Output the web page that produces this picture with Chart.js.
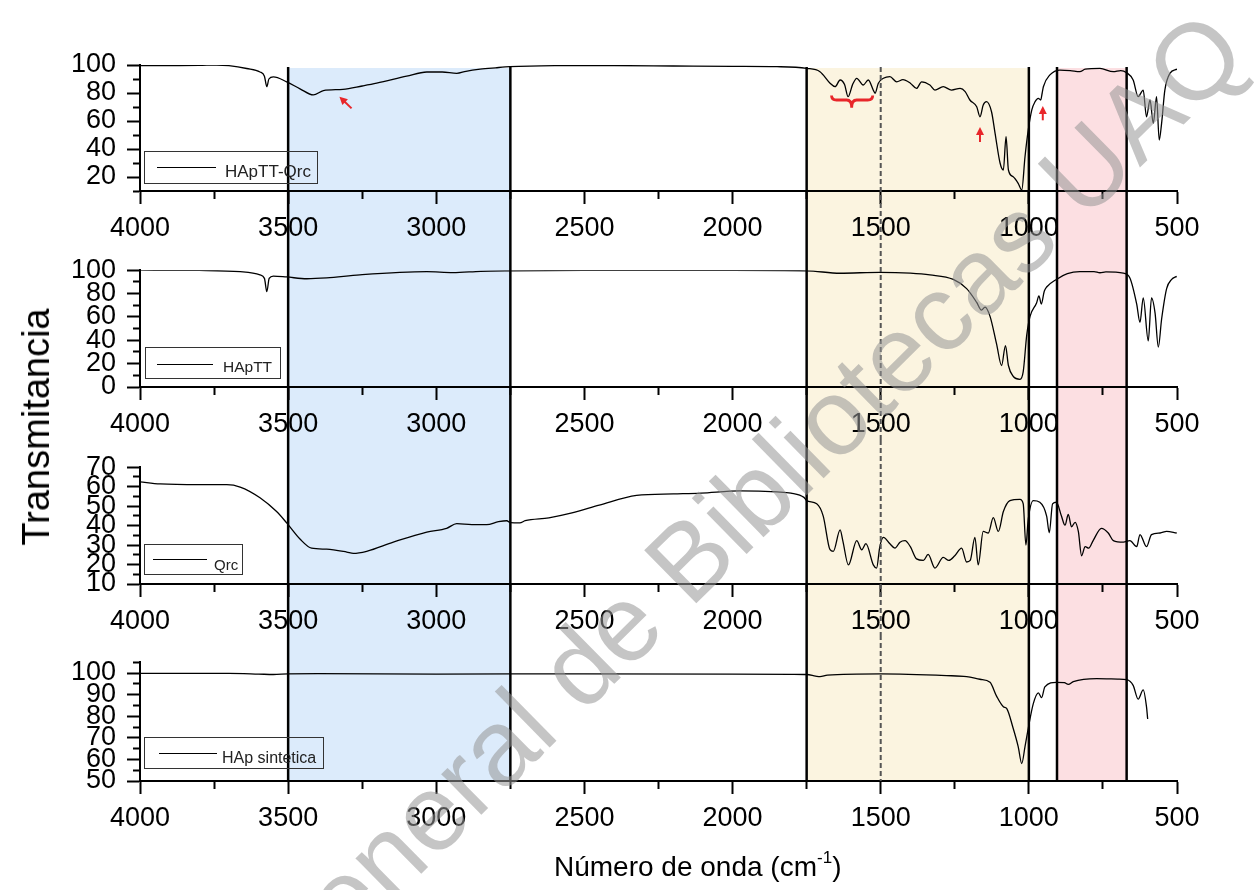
<!DOCTYPE html>
<html><head><meta charset="utf-8">
<script src="https://cdn.jsdelivr.net/npm/chart.js@4.4.1/dist/chart.umd.min.js"></script>
<style>
html,body{margin:0;padding:0;background:#fff;overflow:hidden;}
#wrap{position:relative;width:1259px;height:890px;overflow:hidden;font-family:"Liberation Sans",Arial,sans-serif;color:#000;}
canvas{position:absolute;left:0;}
.lbox{position:absolute;border:1.5px solid #333;box-sizing:border-box;}
.lline{position:absolute;height:0;border-top:1.3px solid #000;}
.ltext{position:absolute;white-space:nowrap;color:#222;line-height:1;}
</style></head>
<body><div id="wrap">
<canvas id="c1" width="1259" height="243" style="top:0px"></canvas>
<canvas id="c2" width="1259" height="197" style="top:243px"></canvas>
<canvas id="c3" width="1259" height="195" style="top:440px"></canvas>
<canvas id="c4" width="1259" height="255" style="top:635px"></canvas>
<div id="legends"></div>
<div style="position:absolute;left:36px;top:427px;transform:translate(-50%,-50%) rotate(-90deg);font-size:38px;white-space:nowrap;line-height:1;">Transmitancia</div>
<div style="position:absolute;left:554px;top:853px;font-size:28px;line-height:28px;white-space:nowrap;">Número de onda (cm<span style="font-size:17px;position:relative;top:-13px;">-1</span>)</div>
<div id="wm" style="position:absolute;left:1225px;top:32px;transform-origin:0 0;transform:rotate(-44.5deg) translate(-100%,-50%);font-size:108px;line-height:1;white-space:nowrap;color:rgba(150,150,150,0.55);pointer-events:none;">Dirección General de Bibliotecas UAQ</div>
</div>
<script>
// ---------- data ----------
const seriesNames = ['HApTT-Qrc', 'HApTT', 'Qrc', 'HAp sintetica'];

const wnHApTTQrc = [4000,3900,3800,3741,3700,3640,3595,3580,3572,3565,3550,3505,3460,3415,3381,3315,3250,3201,3100,3032,2980,2931,2900,2852,2800,2751,2600,2400,2200,2000,1850,1750,1705,1671,1654,1637,1622,1610,1595,1581,1559,1542,1525,1519,1508,1491,1469,1446,1425,1400,1379,1362,1334,1317,1289,1261,1232,1215,1199,1176,1165,1154,1143,1126,1114,1097,1086,1077,1069,1053,1036,1024,1013,1002,990,979,968,960,955,951,929,895,860,828,810,760,715,690,670,648,631,614,603,591,580,569,560,552,541,524,500];
const tHApTTQrc = [99.5,99.6,99.7,100,99.5,97.5,95,92,84.5,90,91.5,88,83,78.6,81.7,82.6,85,87,92,95,95,94,95.5,97,98,98.8,99.5,99.6,99.3,99,98.8,97.6,95.2,87,84.5,89.3,86,77.4,86,90.5,85.7,89.3,82,79.8,87,90.5,91.7,88,89.5,87,83.3,88,85.7,82.1,84.5,82.1,83.3,81,75,70.2,63,71.4,73.8,66.6,51.2,29.8,25,48.8,25,20.2,15.5,10.7,34.5,53.6,67.9,73.8,76.2,75,80,84.5,92.9,96.4,96,95.2,97,97.6,95.2,96,94.5,89.3,77.4,82,63,75,58.3,77.4,46.4,58.3,82,94,97];

const wnHApTT = [4000,3800,3662,3595,3580,3572,3564,3550,3505,3437,3370,3258,3032,2944,2850,2751,2500,2000,1750,1637,1503,1400,1334,1255,1210,1176,1160,1148,1131,1109,1092,1079,1069,1053,1030,1019,1007,996,974,966,958,948,940,907,870,828,780,760,740,681,659,636,625,614,597,586,574,563,552,535,518,501];
const tHApTT = [100,99.8,98.7,96,93,81.6,93,95,94.2,92.7,93.4,96,98.7,97.9,99,99.4,99.8,99.9,99.5,97.4,98.2,97.5,96,92.1,84.2,72.4,65.8,68.4,60.5,36.9,18.4,35.5,18.4,9.2,6.6,13.2,44.8,60.5,72,78,71,82,85.6,92.1,97,98.7,98.7,97.8,98.5,97.4,93.4,71,55.3,76.3,39.5,76.3,63.2,34.2,58,84.2,92.1,94.7];

const wnQrc = [4000,3932,3800,3707,3662,3595,3539,3505,3460,3421,3370,3302,3280,3235,3145,3032,2965,2931,2880,2830,2790,2762,2750,2718,2700,2620,2542,2450,2324,2200,2107,1976,1850,1803,1759,1750,1716,1694,1671,1660,1637,1628,1609,1581,1564,1550,1525,1514,1503,1491,1469,1452,1435,1418,1400,1379,1356,1340,1317,1289,1270,1250,1227,1210,1198,1182,1171,1154,1137,1120,1103,1086,1064,1030,1019,1010,1002,985,963,940,931,920,907,890,878,867,856,844,833,822,810,798,783,755,732,715,681,659,636,625,603,586,557,535,501];
const tQrc = [62.5,61.4,61,61,59.8,54.3,47.2,41.4,33.1,28.4,27.9,26.4,25.7,26.8,31.5,36.7,38.6,41,40.5,40.5,42,42.5,41.5,41.4,42.5,44,46.5,50.5,55.5,56.3,56.7,57.8,57.3,56.7,54.5,52.8,51.2,44.9,27.6,26.8,37.8,32.3,19.8,32.3,27.6,30.7,19.8,18.2,29.2,33.9,30.7,28.4,31.5,32.3,29.2,22.9,22.1,25.2,18.2,23.7,22.1,24.5,28.4,21.3,22.1,33.9,19.8,37,36.2,44.1,37,47.2,52.8,53.5,51.2,30,43.3,52.8,52,44.9,36.3,51.2,52,44.9,40.2,45.7,39.4,41.7,37,24.5,29.2,28.4,32.3,38.6,36.2,32.3,31.5,32.3,29.2,35.4,29.2,35.4,36.2,37,36.2];

const wnHApSint = [4000,3700,3600,3550,3500,3400,3000,2500,2000,1800,1750,1720,1705,1680,1500,1278,1210,1165,1131,1109,1086,1075,1053,1036,1024,1013,1002,985,968,957,946,907,880,867,850,771,700,670,648,631,614,603,599];
const tHApSint = [99.8,99.8,99.5,99.3,99.6,99.7,99.5,99.6,99.5,99.4,99.3,98.6,98.3,99,99.6,98.8,98.3,97.1,95.7,89.3,84.4,83.6,74.4,65.9,58.1,65.9,74.4,85.8,90.8,88.6,93.6,95.7,95.5,94.7,96,97.4,97.2,96.9,94.3,87.9,92.2,84.4,78.7];

// x axis (wavenumber) ticks
const xMin = 500, xMax = 4000, xStep = 250, xLabelStep = 500;
// y axis ranges per panel
const yMins = [10, 0, 10, 50];
const yMaxs = [100, 100, 70, 105];
const ySteps = [10, 10, 5, 5];
const yLabelSteps = [20, 20, 10, 10];

// highlighted regions (wavenumbers)
const bandFrom = [3500, 1750, 905];
const bandTo = [2750, 1000, 670];
const solidLines = [3500, 2750, 1750, 1000, 905, 670];
const dashedLine = 1500;

// ---------- styles ----------
const FONT = "'Liberation Sans', Arial, sans-serif";
const bandFill = ['#dcebfb', '#fbf4e0', '#fcdfe2'];
const RED = '#e8262a';

const layoutCfg = [
  {id:'c1', padTop:65, xh:52, first:true},
  {id:'c2', padTop:17, xh:53},
  {id:'c3', padTop:17, xh:51},
  {id:'c4', padTop:17, xh:109, last:true}
];
const dataCfg = [
  [wnHApTTQrc, tHApTTQrc], [wnHApTT, tHApTT], [wnQrc, tQrc], [wnHApSint, tHApSint]
];

const regionsPlugin = {
  id: 'regions',
  beforeDraw(chart, args, o) {
    const {ctx, chartArea} = chart; const x = chart.scales.x;
    const top = o.first ? chartArea.top + 3 : 0;
    const bottom = o.last ? chartArea.bottom : chart.height;
    ctx.save();
    bandFrom.forEach((a, i) => {
      const p1 = x.getPixelForValue(a), p2 = x.getPixelForValue(bandTo[i]);
      ctx.fillStyle = bandFill[i];
      ctx.fillRect(Math.min(p1,p2), top, Math.abs(p2-p1), bottom-top);
    });
    ctx.restore();
  },
  afterDraw(chart, args, o) {
    const {ctx, chartArea} = chart; const x = chart.scales.x;
    const top = o.first ? chartArea.top + 2 : 0;
    const bottom = o.last ? chartArea.bottom : chart.height;
    ctx.save();
    ctx.strokeStyle = '#000'; ctx.lineWidth = 2.5;
    solidLines.forEach(v => {
      const px = x.getPixelForValue(v);
      ctx.beginPath(); ctx.moveTo(px, top); ctx.lineTo(px, bottom); ctx.stroke();
    });
    ctx.strokeStyle = '#555'; ctx.lineWidth = 2; ctx.setLineDash([5,3]);
    const pd = x.getPixelForValue(dashedLine);
    ctx.beginPath(); ctx.moveTo(pd, top); ctx.lineTo(pd, bottom); ctx.stroke();
    ctx.restore();
    if (o.first) drawAnnotations(chart);
  }
};

function arrow(ctx, x1, y1, x2, y2) {
  const a = Math.atan2(y2-y1, x2-x1), hl = 8, hw = 4;
  ctx.beginPath(); ctx.moveTo(x1, y1); ctx.lineTo(x2 - hl*0.7*Math.cos(a), y2 - hl*0.7*Math.sin(a)); ctx.stroke();
  ctx.beginPath(); ctx.moveTo(x2, y2);
  ctx.lineTo(x2 - hl*Math.cos(a) + hw*Math.sin(a), y2 - hl*Math.sin(a) - hw*Math.cos(a));
  ctx.lineTo(x2 - hl*Math.cos(a) - hw*Math.sin(a), y2 - hl*Math.sin(a) + hw*Math.cos(a));
  ctx.closePath(); ctx.fill();
}
function drawAnnotations(chart) {
  const {ctx} = chart; const x = chart.scales.x, y = chart.scales.y;
  const X = v => x.getPixelForValue(v), Y = v => y.getPixelForValue(v);
  ctx.save();
  ctx.strokeStyle = RED; ctx.fillStyle = RED; ctx.lineWidth = 2;
  arrow(ctx, X(3286), Y(69), X(3327), Y(77.4));
  arrow(ctx, X(1165), Y(45), X(1165), Y(55.7));
  arrow(ctx, X(953), Y(60.5), X(953), Y(70.7));
  const xl = X(1666), xr = X(1527), xm = X(1598);
  const yb = Y(75), yt = Y(78.2), ym = Y(69.5);
  ctx.lineWidth = 2.8;
  ctx.beginPath();
  ctx.moveTo(xl, yt);
  ctx.quadraticCurveTo(xl, yb, xl + 5, yb);
  ctx.lineTo(xm - 5, yb);
  ctx.quadraticCurveTo(xm, yb, xm, ym);
  ctx.quadraticCurveTo(xm, yb, xm + 5, yb);
  ctx.lineTo(xr - 5, yb);
  ctx.quadraticCurveTo(xr, yb, xr, yt);
  ctx.stroke();
  ctx.restore();
}

function makeChart(i) {
  const L = layoutCfg[i];
  const [wn, t] = dataCfg[i];
  const pts = wn.map((w, k) => ({x: w, y: t[k]}));
  const yLab = yLabelSteps[i];
  return new Chart(document.getElementById(L.id), {
    type: 'line',
    data: { datasets: [{ label: seriesNames[i], data: pts, borderColor: '#000', borderWidth: 1.3,
      pointRadius: 0, cubicInterpolationMode: 'monotone', fill: false }] },
    options: {
      responsive: false, animation: false, devicePixelRatio: 1,
      layout: { padding: { top: L.padTop, left: 0, right: 82, bottom: 0 } },
      plugins: { legend: { display: false }, tooltip: { enabled: false },
        regions: { first: !!L.first, last: !!L.last } },
      scales: {
        x: { type: 'linear', min: xMin, max: xMax, reverse: true,
          afterFit: s => { s.height = L.xh; },
          border: { display: true, color: '#000', width: 2 },
          grid: { drawOnChartArea: false, drawTicks: true, tickLength: 13, tickWidth: 2, tickColor: '#000',
            tickBorderDash: c => (c.tick && c.tick.value % xLabelStep !== 0) ? [7, 100] : [] },
          ticks: { stepSize: xStep, autoSkip: false, maxRotation: 0, padding: 8, color: '#000',
            font: { family: FONT, size: 27 },
            callback: v => (v % xLabelStep === 0 ? String(v) : '') } },
        y: { min: yMins[i], max: yMaxs[i],
          afterFit: s => { s.width = 140; },
          border: { display: true, color: '#000', width: 2 },
          grid: { drawOnChartArea: false, drawTicks: true, tickLength: 13, tickWidth: 2, tickColor: '#000',
            tickBorderDash: c => (c.tick && c.tick.value % yLab !== 0) ? [0, 6, 9, 100] : [] },
          ticks: { stepSize: ySteps[i], autoSkip: false, padding: 11, color: '#000',
            font: { family: FONT, size: 27 },
            callback: v => (v % yLab === 0 ? String(v) : '') } }
      }
    },
    plugins: [regionsPlugin]
  });
}
[0,1,2,3].forEach(makeChart);

// ---------- legends (HTML) ----------
const legendBoxes = [
  {l:144, t:151, w:174, h:33, x1:157, x2:216, ly:167.5, tx:225, fs:17, base:177.7},
  {l:145, t:347, w:136, h:32, x1:157, x2:213, ly:364.3, tx:223, fs:15.5, base:371.7},
  {l:144, t:544, w:99, h:31, x1:153, x2:207, ly:560, tx:214, fs:15, base:570},
  {l:144, t:737, w:180, h:32, x1:159, x2:217, ly:754, tx:222, fs:16, base:763.3}
];
const lg = document.getElementById('legends');
legendBoxes.forEach((b, i) => {
  const box = document.createElement('div'); box.className = 'lbox';
  Object.assign(box.style, {left: b.l+'px', top: b.t+'px', width: b.w+'px', height: b.h+'px'});
  const ln = document.createElement('div'); ln.className = 'lline';
  Object.assign(ln.style, {left: b.x1+'px', top: (b.ly-0.6)+'px', width: (b.x2-b.x1)+'px'});
  const tx = document.createElement('div'); tx.className = 'ltext';
  tx.textContent = seriesNames[i];
  Object.assign(tx.style, {left: b.tx+'px', top: (b.base - 0.8465*b.fs)+'px', fontSize: b.fs+'px'});
  lg.appendChild(box); lg.appendChild(ln); lg.appendChild(tx);
});
</script>
</body></html>
